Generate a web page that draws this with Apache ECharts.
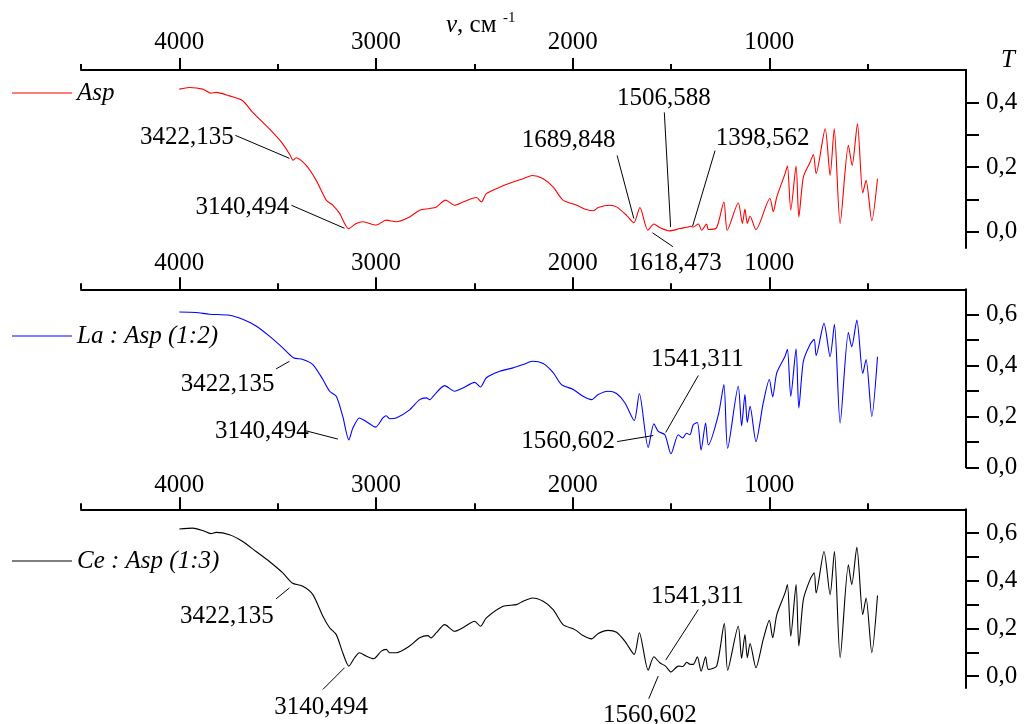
<!DOCTYPE html>
<html>
<head>
<meta charset="utf-8">
<script src="https://cdn.jsdelivr.net/npm/echarts@6/dist/echarts.min.js"></script>
<style>html,body{margin:0;padding:0;background:#fff}#c{width:1027px;height:724px}</style>
</head>
<body>
<div id="c"></div>
<script>
// ---------- data ----------
const xMajorTicks = [1000, 2000, 3000, 4000];
const xMinorTicks = [500, 1500, 2500, 3500, 4500];
const yTicksTop = [0, 0.1, 0.2, 0.3, 0.4];
const yLabelsTop = [0, 0.2, 0.4];
const yTicksLow = [0, 0.1, 0.2, 0.3, 0.4, 0.5, 0.6];
const yLabelsLow = [0, 0.2, 0.4, 0.6];

const seriesNames = ['Asp', 'La : Asp (1:2)', 'Ce : Asp (1:3)'];

const aspWave = [4000,3949,3881,3839,3813,3745,3678,3627,3542,3474,3436,3422,3406,3355,3304,3253,3219,3185,3140,3100,3067,2999,2948,2897,2829,2778,2727,2693,2646,2600,2558,2489,2464,2439,2371,2303,2252,2205,2150,2099,2049,1980,1930,1896,1870,1811,1777,1726,1689,1658,1618,1587,1557,1506,1455,1420,1398,1387,1361,1344,1319,1310,1268,1231,1214,1158,1137,1124,1112,1098,1068,997,980,962,920,908,891,864,850,827,793,776,762,716,691,670,640,598,579,552,525,508,479,450];
const aspT = [0.441,0.446,0.441,0.428,0.431,0.420,0.405,0.369,0.318,0.272,0.236,0.221,0.229,0.205,0.159,0.098,0.082,0.057,0.010,0.026,0.031,0.021,0.036,0.031,0.046,0.067,0.072,0.077,0.098,0.082,0.092,0.106,0.092,0.118,0.138,0.154,0.164,0.174,0.164,0.138,0.098,0.082,0.069,0.065,0.075,0.082,0.077,0.051,0.028,0.075,0.005,0.024,0.013,0.003,0.010,0.014,0.017,0.015,0.024,0.005,0.024,0.007,0.013,0.092,0.005,0.089,0.026,0.070,0.026,0.048,0.007,0.103,0.062,0.108,0.180,0.203,0.067,0.203,0.046,0.169,0.215,0.239,0.180,0.318,0.174,0.318,0.026,0.267,0.205,0.334,0.120,0.159,0.034,0.164];

const laWave = [4000,3915,3847,3745,3678,3610,3542,3474,3420,3372,3321,3270,3236,3202,3169,3138,3118,3084,3050,3002,2965,2948,2931,2897,2829,2778,2744,2727,2702,2651,2600,2558,2498,2469,2439,2371,2303,2252,2205,2150,2099,2057,1997,1947,1904,1870,1820,1777,1734,1687,1661,1616,1587,1565,1531,1500,1463,1441,1421,1404,1387,1366,1347,1324,1310,1259,1231,1212,1158,1141,1124,1112,1098,1068,1031,1000,983,962,920,908,891,864,850,827,793,772,762,722,691,669,640,598,581,555,525,508,479,450];
const laT = [0.611,0.609,0.602,0.598,0.582,0.556,0.516,0.470,0.431,0.424,0.404,0.345,0.299,0.279,0.200,0.108,0.154,0.194,0.180,0.158,0.194,0.203,0.191,0.194,0.226,0.266,0.273,0.266,0.286,0.321,0.299,0.312,0.334,0.316,0.352,0.378,0.391,0.404,0.417,0.408,0.372,0.325,0.306,0.279,0.266,0.286,0.299,0.290,0.253,0.184,0.290,0.078,0.171,0.141,0.128,0.053,0.128,0.115,0.134,0.128,0.167,0.176,0.068,0.174,0.088,0.207,0.325,0.075,0.319,0.163,0.286,0.176,0.240,0.101,0.253,0.345,0.277,0.372,0.437,0.464,0.279,0.466,0.233,0.417,0.483,0.503,0.440,0.566,0.435,0.562,0.174,0.530,0.474,0.579,0.369,0.424,0.200,0.435];

const ceWave = [4000,3932,3881,3839,3813,3745,3678,3610,3542,3474,3426,3372,3321,3270,3236,3202,3169,3138,3109,3084,3050,3012,2973,2948,2931,2897,2829,2778,2736,2720,2693,2651,2600,2558,2498,2469,2439,2354,2286,2252,2205,2150,2099,2049,1989,1947,1904,1870,1820,1777,1734,1687,1661,1616,1587,1557,1528,1500,1463,1440,1420,1405,1387,1366,1347,1324,1310,1268,1229,1212,1158,1141,1124,1112,1098,1068,1031,1000,983,962,920,908,891,864,850,827,793,772,762,722,691,669,640,598,581,555,525,508,479,450];
const ceT = [0.617,0.621,0.611,0.598,0.603,0.593,0.565,0.523,0.481,0.433,0.391,0.377,0.342,0.251,0.203,0.174,0.098,0.042,0.077,0.098,0.084,0.073,0.105,0.112,0.098,0.098,0.126,0.161,0.170,0.160,0.182,0.216,0.188,0.203,0.230,0.209,0.244,0.293,0.300,0.314,0.328,0.314,0.279,0.216,0.195,0.170,0.156,0.179,0.192,0.184,0.146,0.091,0.182,0.025,0.081,0.056,0.042,0.017,0.042,0.040,0.058,0.050,0.049,0.081,0.021,0.081,0.028,0.042,0.220,0.025,0.209,0.074,0.174,0.077,0.137,0.035,0.154,0.234,0.161,0.258,0.349,0.384,0.167,0.384,0.126,0.321,0.405,0.433,0.349,0.523,0.342,0.523,0.077,0.467,0.384,0.541,0.258,0.328,0.098,0.338];

// peak annotations: text, leader line from -> to (data coords), text centre (data coords)
const annotationsAsp = [
  {text:'3422,135', from:[3715,0.298], to:[3440,0.227], at:[3962,0.291]},
  {text:'3140,494', from:[3430,0.082], to:[3160,0.011], at:[3679,0.076]},
  {text:'1689,848', from:[1774,0.236], to:[1689,0.041], at:[2020,0.282]},
  {text:'1506,588', from:[1534,0.369], to:[1502,0.015], at:[1536,0.411]},
  {text:'1398,562', from:[1276,0.251], to:[1390,0.018], at:[1034,0.288]},
  {text:'1618,473', from:[1594,-0.003], to:[1490,-0.046], at:[1480,-0.099]}
];
const annotationsLa = [
  {text:'3422,135', from:[3508,0.387], to:[3440,0.417], at:[3754,0.326]},
  {text:'3140,494', from:[3359,0.144], to:[3194,0.111], at:[3580,0.140]},
  {text:'1541,311', from:[1361,0.361], to:[1527,0.137], at:[1366,0.424]},
  {text:'1560,602', from:[1774,0.101], to:[1590,0.125], at:[2023,0.101]}
];
const annotationsCe = [
  {text:'3422,135', from:[3508,0.324], to:[3440,0.370], at:[3758,0.251]},
  {text:'3140,494', from:[3270,-0.056], to:[3160,0.035], at:[3279,-0.132]},
  {text:'1541,311', from:[1361,0.279], to:[1527,0.067], at:[1366,0.335]},
  {text:'1560,602', from:[1613,-0.095], to:[1565,0.000], at:[1607,-0.167]}
];

// ---------- chart ----------
const FONT = 'Liberation Serif';
const colors = ['#ff0000', '#0000ff', '#000000'];
const waves = [aspWave, laWave, ceWave];
const values = [aspT, laT, ceT];
const anns = [annotationsAsp, annotationsLa, annotationsCe];

const grids = [
  {left: 81, right: 61, top: 70, height: 178},
  {left: 81, right: 61, top: 289.3, height: 178},
  {left: 81, right: 61, top: 509.3, height: 178.7}
];
const yRanges = [[-0.05, 0.5], [0, 0.7], [-0.05, 0.7]];
const yTicks = [yTicksTop, yTicksLow, yTicksLow];
const yLabels = [yLabelsTop, yLabelsLow, yLabelsLow];
const xLabelMargin = [15.5, 13, 11.5];
const legendCenters = [93, 336, 561];

const xAxes = [], yAxes = [], series = [], legends = [];
for (let i = 0; i < 3; i++) {
  xAxes.push({
    gridIndex: i, type: 'value', position: 'top', inverse: true, min: 0, max: 4500,
    axisLine: {show: true, onZero: false, lineStyle: {color: '#000', width: 2}},
    axisTick: {show: true, customValues: xMajorTicks, length: 12, lineStyle: {color: '#000', width: 2}},
    axisLabel: {show: true, customValues: xMajorTicks, margin: xLabelMargin[i], color: '#000', fontSize: 25, fontFamily: FONT,
      formatter: v => String(v)},
    splitLine: {show: false}
  });
  xAxes.push({
    gridIndex: i, type: 'value', position: 'top', inverse: true, min: 0, max: 4500,
    axisLine: {show: false, onZero: false},
    axisTick: {show: true, customValues: xMinorTicks, length: 6, lineStyle: {color: '#000', width: 2}},
    axisLabel: {show: false},
    splitLine: {show: false}
  });
  yAxes.push({
    gridIndex: i, type: 'value', position: 'right', min: yRanges[i][0], max: yRanges[i][1],
    axisLine: {show: true, onZero: false, lineStyle: {color: '#000', width: 2}},
    axisTick: {show: true, customValues: yTicks[i], length: 13, lineStyle: {color: '#000', width: 2}},
    axisLabel: {show: true, customValues: yLabels[i], margin: 20, color: '#000', fontSize: 25, fontFamily: FONT,
      formatter: v => v.toFixed(1).replace('.', ',')},
    splitLine: {show: false}
  });
  series.push({
    name: seriesNames[i], type: 'line', xAxisIndex: 2 * i, yAxisIndex: i,
    data: waves[i].map((w, k) => [w, values[i][k]]),
    symbol: 'none', smooth: 0.25, color: colors[i],
    lineStyle: {color: colors[i], width: 1.1}, z: 3
  });
  series.push({
    type: 'lines', coordinateSystem: 'cartesian2d', xAxisIndex: 2 * i, yAxisIndex: i,
    clip: false, silent: true, polyline: false,
    lineStyle: {color: '#000', width: 1, opacity: 1, curveness: 0},
    data: anns[i].map(a => ({coords: [a.from, a.to]})), z: 4
  });
  series.push({
    type: 'scatter', xAxisIndex: 2 * i, yAxisIndex: i, clip: false, silent: true,
    symbolSize: 1, itemStyle: {color: 'rgba(0,0,0,0)', opacity: 1},
    label: {show: true, position: 'inside', color: '#000', fontSize: 25, fontFamily: FONT,
      textBorderWidth: 0, opacity: 1, formatter: p => p.data.name},
    data: anns[i].map(a => ({name: a.text, value: a.at})), z: 5
  });
  legends.push({
    data: [{name: seriesNames[i], icon: 'rect'}], left: 12, top: legendCenters[i] - 12.5, padding: 0,
    itemWidth: 60, itemHeight: 1, selectedMode: false,
    textStyle: {color: '#000', fontSize: 25, fontFamily: FONT, fontStyle: 'italic'}
  });
}

const chart = echarts.init(document.getElementById('c'), null, {renderer: 'canvas'});
chart.setOption({
  animation: false,
  backgroundColor: '#fff',
  title: [
    {text: '{i|ν}, см', left: 446, top: 13, padding: 0,
      textStyle: {fontSize: 25, fontWeight: 'normal', color: '#000', fontFamily: FONT,
        rich: {i: {fontSize: 25, fontStyle: 'italic', color: '#000', fontFamily: FONT}}}},
    {text: '-1', left: 503, top: 11, padding: 0,
      textStyle: {fontSize: 15, fontWeight: 'normal', color: '#000', fontFamily: FONT}},
    {text: 'T', left: 1001, top: 48, padding: 0,
      textStyle: {fontSize: 25, fontWeight: 'normal', fontStyle: 'italic', color: '#000', fontFamily: FONT}}
  ],
  legend: legends,
  grid: grids,
  xAxis: xAxes,
  yAxis: yAxes,
  series: series
});
</script>
</body>
</html>
